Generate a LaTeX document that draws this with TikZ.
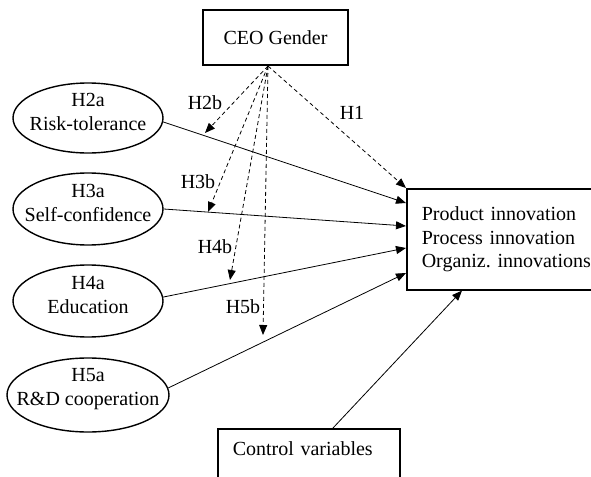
\documentclass[tikz,border=0pt]{standalone}
\usepackage{fontspec}
\setmainfont{Liberation Serif}
\usetikzlibrary{arrows.meta,shapes.geometric}

\tikzset{
  box/.style={draw, line width=0.8pt},
  hyp/.style={draw, ellipse, line width=0.7pt, inner sep=0pt, minimum width=75pt, minimum height=35pt},
  hyptext/.style={align=center, yshift=3pt},
  eff/.style={-{Triangle[length=5pt,width=4pt]}, line width=0.4pt},
  med/.style={eff, dash pattern=on 2pt off 1.5pt}
}

\begin{document}
\begin{tikzpicture}[x=0.5pt, y=-0.5pt, font=\fontsize{10}{11.75}\selectfont]
    \useasboundingbox (0,0) rectangle (591,477);
    \clip (0,0) rectangle (591,477);

    % boxes
    \node[box, minimum width=72.5pt, minimum height=27.5pt] (ceo) at (275.5,37.5) {CEO Gender};
    \node[box, anchor=north west, text width=92pt, inner xsep=7.5pt, minimum height=50.5pt, align=left] (main) at (406,188)
        {Product innovation\\Process innovation\\Organiz.\ innovations};
    \node[box, anchor=north west, text width=76pt, inner xsep=7.5pt, inner ysep=4pt, text height=9.3pt, text depth=30pt, align=left] (ctrl) at (217,428)
        {Control variables};

    % hypotheses
    \node[hyp, label={[hyptext]center:{H2a\\Risk-tolerance}}] (h2a) at (88,118) {};
    \node[hyp, minimum height=36pt, label={[hyptext]center:{H3a\\Self-confidence}}] (h3a) at (88,209) {};
    \node[hyp, minimum height=36pt, label={[hyptext]center:{H4a\\Education}}] (h4a) at (88,301) {};
    \node[hyp, minimum width=81pt, minimum height=37pt, label={[hyptext]center:{H5a\\R\&D cooperation}}] (h5a) at (88,395) {};

    % direct effects
    \draw[eff] (h2a.-3) -- ([yshift=-7.5pt]main.north west);
    \draw[eff] (h3a.east) -- ([yshift=-19pt]main.north west);
    \draw[eff] (h4a.3) -- ([yshift=-30pt]main.north west);
    \draw[eff] (h5a.5) -- ([yshift=-42.5pt]main.north west);
    \draw[eff] ([xshift=58pt]ctrl.north west) -- ([xshift=28pt]main.south west);

    % moderating effects of gender
    \coordinate (apex) at (268,66);
    \coordinate (m2) at (205,133);
    \coordinate (m3) at (208,212);
    \coordinate (m4) at (230,280);
    \coordinate (m5) at (263,335);
    \draw[med] (apex) -- (main.north west);
    \draw[med] (apex) -- (m2);
    \draw[med] (apex) -- (m3);
    \draw[med] (apex) -- (m4);
    \draw[med] (apex) -- (m5);

    \node (l1) at (352,113) {H1};
    \node (l2) at (205,103) {H2b};
    \node (l3) at (198,182) {H3b};
    \node (l4) at (215,247) {H4b};
    \node (l5) at (243,307) {H5b};
\end{tikzpicture}
\end{document}
